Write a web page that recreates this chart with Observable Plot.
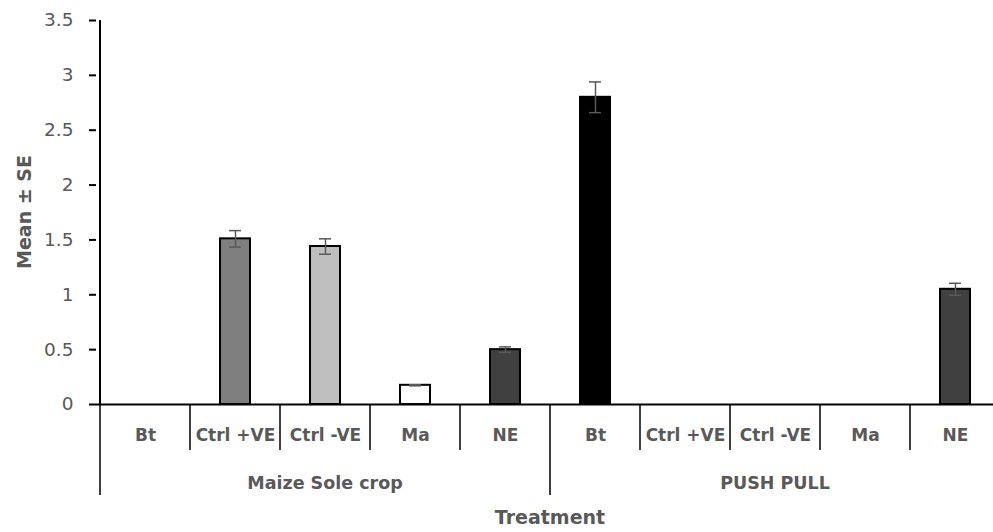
<!DOCTYPE html>
<html>
<head>
<meta charset="utf-8">
<script src="https://cdn.jsdelivr.net/npm/d3@7"></script>
<script src="https://cdn.jsdelivr.net/npm/@observablehq/plot@0.6"></script>
<style>
  html, body { margin: 0; padding: 0; background: #fff; overflow: hidden; }
  svg { display: block; }
</style>
</head>
<body>
<div id="chart"></div>
<script>
// Cropping systems and treatments (two-level category axis)
const systems = ["Maize Sole crop", "PUSH PULL"];
const treatments = ["Bt", "Ctrl +VE", "Ctrl -VE", "Ma", "NE"];

// Mean and standard error for each treatment, per system
const maizeSoleMeans = [0, 1.51, 1.44, 0.175, 0.50];
const maizeSoleSE    = [0, 0.075, 0.07, 0.005, 0.025];
const pushPullMeans  = [2.80, 0, 0, 0, 1.05];
const pushPullSE     = [0.14, 0, 0, 0, 0.055];

// Bar fill per treatment
const treatmentFills = ["#000000", "#7f7f7f", "#bfbfbf", "#ffffff", "#404040"];

// Value axis ticks
const yTicks = [0, 0.5, 1, 1.5, 2, 2.5, 3, 3.5];

const yTitle = "Mean ± SE";
const xTitle = "Treatment";

const meansBySystem = [maizeSoleMeans, pushPullMeans];
const seBySystem = [maizeSoleSE, pushPullSE];

const rows = systems.flatMap((system, s) =>
  treatments.map((treatment, t) => ({
    system,
    treatment,
    index: t,
    key: `${system}|${treatment}`,
    mean: meansBySystem[s][t],
    se: seBySystem[s][t]
  }))
);
const keys = rows.map(d => d.key);
const errRows = rows.filter(d => d.se > 0);

const textGray = "#595959";

// Group separators, group labels and axis titles drawn from the band scale
function groupedAxis(index, scales, values, dimensions) {
  const x = scales.x, y = scales.y;
  const half = (x.step() - x.bandwidth()) / 2;
  const y0 = y(0);
  const g = d3.create("svg:g")
    .attr("font-family", "DejaVu Sans")
    .attr("font-weight", "bold")
    .attr("fill", textGray);

  const edges = rows.map(d => ({pos: x(d.key) - half, group: d.index === 0}));
  const last = rows[rows.length - 1];
  edges.push({pos: x(last.key) + x.bandwidth() + half, group: true});

  // value axis line
  g.append("line")
    .attr("x1", edges[0].pos).attr("x2", edges[0].pos)
    .attr("y1", y(yTicks[yTicks.length - 1])).attr("y2", y0)
    .attr("stroke", "black").attr("stroke-width", 2);

  g.selectAll("line.sep").data(edges).join("line")
    .attr("class", "sep")
    .attr("x1", e => e.pos).attr("x2", e => e.pos)
    .attr("y1", y0).attr("y2", e => y0 + (e.group ? 91 : 46))
    .attr("stroke", "black").attr("stroke-width", 1.5);

  systems.forEach(system => {
    const inGroup = rows.filter(d => d.system === system);
    const a = x(inGroup[0].key) - half;
    const b = x(inGroup[inGroup.length - 1].key) + x.bandwidth() + half;
    g.append("text")
      .attr("x", (a + b) / 2).attr("y", y0 + 84.5)
      .attr("text-anchor", "middle").attr("font-size", 17.5)
      .text(system);
  });

  g.append("text")
    .attr("x", (edges[0].pos + edges[edges.length - 1].pos) / 2)
    .attr("y", y0 + 120)
    .attr("text-anchor", "middle").attr("font-size", 19)
    .text(xTitle);

  g.append("text")
    .attr("transform", `translate(31,${(y(0) + y(yTicks[yTicks.length - 1])) / 2}) rotate(-90)`)
    .attr("text-anchor", "middle").attr("font-size", 19)
    .text(yTitle);

  return g.node();
}

const chart = Plot.plot({
  width: 993,
  height: 532,
  marginTop: 20,
  marginBottom: 128,
  marginLeft: 96,
  marginRight: 0,
  style: {fontFamily: "DejaVu Sans", fontSize: "18px", color: "black", background: "white"},
  x: {
    domain: keys,
    range: [96, 1004],
    paddingInner: 0.67,
    paddingOuter: 0.335,
    align: 0.5,
    tickSize: 0,
    tickPadding: 24,
    tickFormat: k => k.split("|")[1],
    label: null
  },
  y: {
    domain: [0, 3.5],
    ticks: yTicks,
    tickSize: 7,
    tickPadding: 16,
    tickFormat: d => String(d),
    label: null
  },
  color: {domain: treatments, range: treatmentFills},
  marks: [
    Plot.barY(rows, {x: "key", y: "mean", fill: "treatment", stroke: "black", strokeWidth: 2}),
    Plot.ruleY([0], {stroke: "black", strokeWidth: 2}),
    Plot.ruleX(errRows, {x: "key", y1: d => d.mean - d.se, y2: d => d.mean + d.se, stroke: textGray, strokeWidth: 1.5}),
    Plot.tickY(errRows, {x: "key", y: d => d.mean + d.se, stroke: textGray, strokeWidth: 1.5, insetLeft: 9, insetRight: 9}),
    Plot.tickY(errRows, {x: "key", y: d => d.mean - d.se, stroke: textGray, strokeWidth: 1.5, insetLeft: 9, insetRight: 9}),
    groupedAxis
  ]
});

const sel = d3.select(chart);
sel.selectAll('[aria-label^="x-axis"] text')
  .attr("font-weight", "bold").attr("font-size", 17).attr("fill", textGray);
sel.selectAll('[aria-label^="y-axis"] text')
  .attr("font-size", 18.5).attr("fill", textGray);
sel.selectAll('[aria-label^="y-axis"] path, [aria-label^="y-axis"] line')
  .attr("stroke-width", 2);

document.getElementById("chart").appendChild(chart);
</script>
</body>
</html>
